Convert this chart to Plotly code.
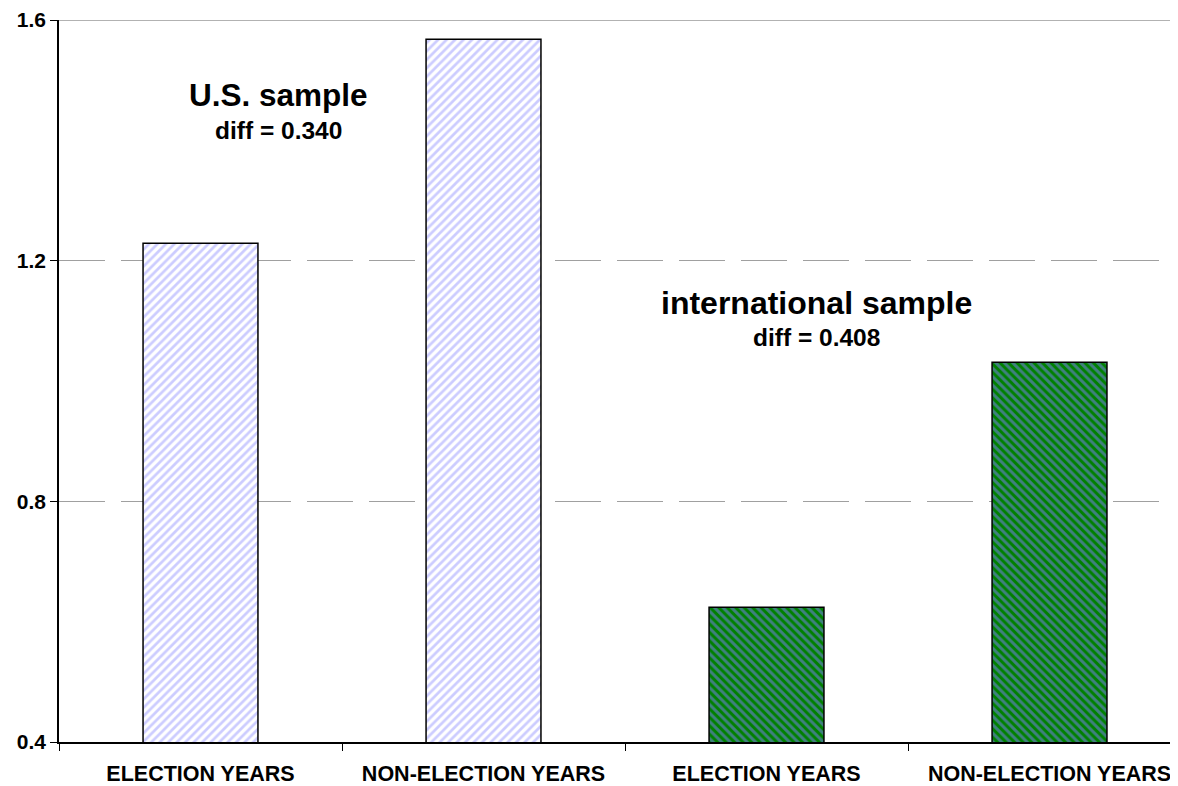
import plotly.graph_objects as go

categories = ["ELECTION YEARS", "NON-ELECTION YEARS", "ELECTION YEARS", "NON-ELECTION YEARS"]
us_values = [1.229, 1.568]
intl_values = [0.624, 1.031]
y_ticks = [0.4, 0.8, 1.2, 1.6]

FONT = "Arial, Liberation Sans, sans-serif"
xpos = list(range(len(categories)))

fig = go.Figure()
fig.add_trace(go.Bar(
    x=xpos[:2], y=us_values, base=0,
    width=0.406,
    marker=dict(color="white",
                line=dict(color="black", width=1.5),
                pattern=dict(shape="/", fgcolor="#9999ff", bgcolor="white",
                             size=6, solidity=0.45)),
    showlegend=False, hoverinfo="y",
))
fig.add_trace(go.Bar(
    x=xpos[2:], y=intl_values, base=0,
    width=0.406,
    marker=dict(color="#008000",
                line=dict(color="black", width=1.5),
                pattern=dict(shape="\\", fgcolor="#8080ff", bgcolor="#008000",
                             size=6, solidity=0.5)),
    showlegend=False, hoverinfo="y",
))

fig.add_shape(type="line", xref="paper", yref="y", x0=0, x1=1, y0=1.6, y1=1.6,
              line=dict(color="#999999", width=1.5), layer="below")

ann = [
    (0.196, 1.476, "U.S. sample", 31.5),
    (0.196, 1.417, "diff = 0.340", 24.5),
    (0.677, 1.129, "international sample", 32),
    (0.677, 1.073, "diff = 0.408", 24.5),
]
for x, y, t, s in ann:
    fig.add_annotation(x=x, xref="paper", y=y, yref="y", text="<b>%s</b>" % t,
                       xanchor="center", yanchor="middle",
                       showarrow=False,
                       font=dict(family=FONT, size=s, color="black", weight="bold"))

fig.update_layout(
    width=1170, height=778,
    margin=dict(l=51, r=0, t=11, b=43),
    paper_bgcolor="white", plot_bgcolor="white",
    font=dict(family=FONT, color="black"),
    barmode="overlay",
    xaxis=dict(
        range=[-0.5, 3.454],
        tickmode="array", tickvals=xpos,
        ticktext=["<b>%s</b>" % c for c in categories],
        ticks="", ticklabelstandoff=11,
        tickfont=dict(size=21.5, family=FONT, color="black", weight="bold"),
        showline=True, linecolor="black", linewidth=1.5,
        showgrid=False, zeroline=False,
        minor=dict(tickmode="array", tickvals=[-0.5, 0.5, 1.5, 2.5],
                   ticks="outside", ticklen=7, tickcolor="black", tickwidth=1, showgrid=False),
    ),
    yaxis=dict(
        range=[0.4, 1.6],
        tickmode="array", tickvals=y_ticks,
        ticktext=["<b>%.1f</b>" % v for v in y_ticks],
        ticks="outside", ticklen=7, tickcolor="black", tickwidth=1,
        tickfont=dict(size=21, family=FONT, color="black", weight="bold"),
        ticklabeloverflow="allow",
        showline=True, linecolor="black", linewidth=1.5,
        showgrid=True, gridcolor="#a0a0a0", gridwidth=1, griddash="46px,16px",
        zeroline=False,
    ),
)

fig.write_html("out.html")
